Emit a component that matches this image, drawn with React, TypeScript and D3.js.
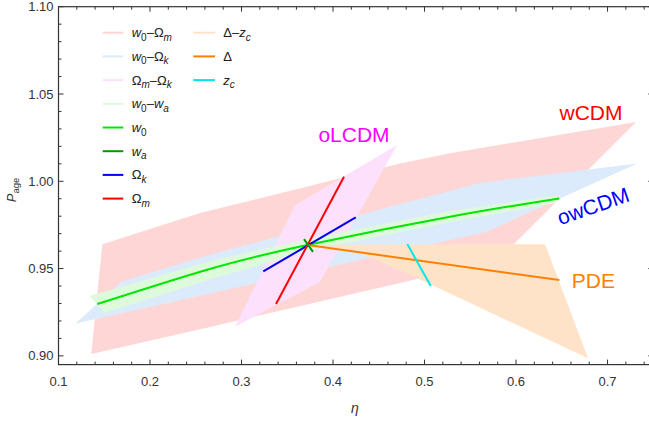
import React from 'react';
import * as d3 from 'd3';

// region polygons, [eta, P_age]
const wCDMband: [number, number][] = [
  [0.1479, 0.9639], [0.2546, 0.9818], [0.4732, 1.0102], [0.5279, 1.0161], [0.7311, 1.034],
  [0.5803, 0.9549], [0.4732, 0.9417], [0.2634, 0.9163], [0.1358, 0.9011],
];
const owCDMband: [number, number][] = [
  [0.1184, 0.9186], [0.1686, 0.9424], [0.2634, 0.9577], [0.5607, 0.999], [0.7326, 1.0102],
  [0.568, 0.9711], [0.2634, 0.9354],
];
const w0waBand: [number, number][] = [
  [0.1341, 0.9343], [0.2634, 0.9539], [0.3719, 0.967], [0.5279, 0.983], [0.6473, 0.9921],
  [0.6426, 0.9875], [0.5279, 0.9765], [0.3719, 0.9602], [0.2634, 0.9434], [0.1505, 0.9247],
];
const oLCDMband: [number, number][] = [
  [0.4699, 1.0207], [0.3585, 0.9864], [0.2929, 0.9167], [0.3858, 0.9423],
];
const pdeBand: [number, number][] = [
  [0.3719, 0.9635], [0.6317, 0.964], [0.6787, 0.8986], [0.4806, 0.9473], [0.4295, 0.9589],
];

// 1-parameter curves
const w0Line: [number, number][] = [
  [0.1424, 0.9297], [0.2634, 0.9495], [0.3719, 0.9635], [0.5279, 0.9797], [0.6473, 0.9902],
];
const waLine: [number, number][] = [[0.3683, 0.9669], [0.3781, 0.9596]];
const okLine: [number, number][] = [[0.3238, 0.9484], [0.4248, 0.9793]];
const omLine: [number, number][] = [[0.3377, 0.9297], [0.412, 1.0026]];
const deltaLine: [number, number][] = [[0.3719, 0.9635], [0.6473, 0.9434]];
const zcLine: [number, number][] = [[0.4812, 0.964], [0.5068, 0.94]];

const xMajor = [0.1, 0.2, 0.3, 0.4, 0.5, 0.6, 0.7];
const yMajor = [0.9, 0.95, 1.0, 1.05, 1.1];

const C = {
  redBand: '#ffd6d6', blueBand: '#dcebfb', greenBand: '#ddfadb', pinkBand: '#fde0fb', orangeBand: '#ffe3c8',
  w0: '#00e600', wa: '#009a00', ok: '#0000ee', om: '#ff0000', delta: '#ff8000', zc: '#00e8e8',
};

type Seg = { t: string; i?: boolean; s?: boolean };
const w = (): Seg => ({ t: 'w', i: true });
const sub = (t: string, i = true): Seg => ({ t, i, s: true });
const O: Seg = { t: 'Ω' };
const dash: Seg = { t: '–' };

const legendLeft: { color: string; label: Seg[] }[] = [
  { color: C.redBand, label: [w(), sub('0', false), dash, O, sub('m')] },
  { color: C.blueBand, label: [w(), sub('0', false), dash, O, sub('k')] },
  { color: C.pinkBand, label: [O, sub('m'), dash, O, sub('k')] },
  { color: C.greenBand, label: [w(), sub('0', false), dash, w(), sub('a')] },
  { color: C.w0, label: [w(), sub('0', false)] },
  { color: C.wa, label: [w(), sub('a')] },
  { color: C.ok, label: [O, sub('k')] },
  { color: C.om, label: [O, sub('m')] },
];
const legendRight: { color: string; label: Seg[] }[] = [
  { color: C.orangeBand, label: [{ t: 'Δ' }, dash, { t: 'z', i: true }, sub('c')] },
  { color: C.delta, label: [{ t: 'Δ' }] },
  { color: C.zc, label: [{ t: 'z', i: true }, sub('c')] },
];

const W = 649, H = 424;
const font = 'Liberation Sans, Arial, sans-serif';

function Label({ segs, x, y }: { segs: Seg[]; x: number; y: number }) {
  let shifted = false;
  return (
    <text x={x} y={y} fontFamily={font} fontSize={13} fill="#222">
      {segs.map((s, k) => {
        let dy = 0;
        if (s.s && !shifted) { dy = 3.5; shifted = true; }
        else if (!s.s && shifted) { dy = -3.5; shifted = false; }
        return (
          <tspan key={k} dy={dy} fontStyle={s.i ? 'italic' : 'normal'} fontSize={s.s ? 10 : 13}>{s.t}</tspan>
        );
      })}
    </text>
  );
}

export default function App() {
  const x = d3.scaleLinear().domain([0.1, 0.75]).range([58.5, 653.3]);
  const y = d3.scaleLinear().domain([0.895, 1.1]).range([364.6, 6.7]);
  const poly = (pts: [number, number][]) => 'M' + pts.map(p => `${x(p[0])},${y(p[1])}`).join('L') + 'Z';
  const line = d3.line<[number, number]>().x(d => x(d[0])).y(d => y(d[1]));
  const curve = d3.line<[number, number]>().x(d => x(d[0])).y(d => y(d[1])).curve(d3.curveNatural);

  const xMinor = d3.range(0.1, 0.7501, 0.02);
  const yMinor = d3.range(0.9, 1.1001, 0.01);
  const [x0, x1] = x.range();
  const [y0, y1] = y.range();

  return (
    <svg width={W} height={H} style={{ position: 'absolute', left: 0, top: 0, background: '#fff' }}>
      <path d={poly(wCDMband)} fill={C.redBand} />
      <path d={poly(owCDMband)} fill={C.blueBand} />
      <path d={poly(oLCDMband)} fill={C.pinkBand} />
      <path d={poly(w0waBand)} fill={C.greenBand} />
      <path d={poly(pdeBand)} fill={C.orangeBand} />

      <path d={curve(w0Line) || ''} fill="none" stroke={C.w0} strokeWidth={2} />
      <path d={line(okLine) || ''} fill="none" stroke={C.ok} strokeWidth={2} />
      <path d={line(omLine) || ''} fill="none" stroke={C.om} strokeWidth={2} />
      <path d={line(deltaLine) || ''} fill="none" stroke={C.delta} strokeWidth={2} />
      <path d={line(zcLine) || ''} fill="none" stroke={C.zc} strokeWidth={2} />
      <path d={line(waLine) || ''} fill="none" stroke={C.wa} strokeWidth={2} />

      <text x={x(0.6475)} y={y(1.035)} fontFamily={font} fontSize={21} fill="#ff0000">wCDM</text>
      <text x={x(0.384)} y={y(1.0226)} fontFamily={font} fontSize={21} fill="#ff00ff">oLCDM</text>
      <text transform={`translate(${x(0.6842)},${y(0.9858)}) rotate(-19)`} textAnchor="middle" dy="0.35em"
        fontFamily={font} fontSize={21} fill="#0000ff">owCDM</text>
      <text x={x(0.6609)} y={y(0.9387)} fontFamily={font} fontSize={21} fill="#ff8000">PDE</text>

      {/* frame */}
      <rect x={x0} y={y1} width={x1 - x0} height={y0 - y1} fill="none" stroke="#333" strokeWidth={1.2} />
      {xMinor.map((v, k) => {
        const major = xMajor.some(m => Math.abs(m - v) < 1e-6);
        const l = major ? 5 : 3;
        return (
          <g key={'xt' + k} stroke="#333" strokeWidth={1}>
            <line x1={x(v)} x2={x(v)} y1={y0} y2={y0 - l} />
            <line x1={x(v)} x2={x(v)} y1={y1} y2={y1 + l} />
          </g>
        );
      })}
      {yMinor.map((v, k) => {
        const major = yMajor.some(m => Math.abs(m - v) < 1e-6);
        const l = major ? 5 : 3;
        return (
          <g key={'yt' + k} stroke="#333" strokeWidth={1}>
            <line x1={x0} x2={x0 + l} y1={y(v)} y2={y(v)} />
            <line x1={x1} x2={x1 - l} y1={y(v)} y2={y(v)} />
          </g>
        );
      })}
      {xMajor.map(v => (
        <text key={'xl' + v} x={x(v)} y={y0 + 21} textAnchor="middle" fontFamily={font} fontSize={13} fill="#333">
          {d3.format('.1f')(v)}
        </text>
      ))}
      {yMajor.map(v => (
        <text key={'yl' + v} x={x0 - 5} y={y(v)} dy="0.35em" textAnchor="end" fontFamily={font} fontSize={13} fill="#333">
          {d3.format('.2f')(v)}
        </text>
      ))}
      <text x={355} y={413} textAnchor="middle" fontFamily={font} fontSize={14} fontStyle="italic" fill="#333">η</text>
      <text transform="translate(16,190) rotate(-90)" textAnchor="middle" fontFamily={font} fontSize={13} fill="#333">
        <tspan fontStyle="italic">P</tspan><tspan fontSize={9.5} dy={3}>age</tspan>
      </text>

      {legendLeft.map((d, k) => (
        <g key={'ll' + k}>
          <line x1={102.7} x2={123.3} y1={32.7 + k * 23.7} y2={32.7 + k * 23.7} stroke={d.color} strokeWidth={2} />
          <Label segs={d.label} x={131.7} y={32.7 + k * 23.7 + 4.5} />
        </g>
      ))}
      {legendRight.map((d, k) => (
        <g key={'lr' + k}>
          <line x1={193.3} x2={215} y1={32.7 + k * 23.7} y2={32.7 + k * 23.7} stroke={d.color} strokeWidth={2} />
          <Label segs={d.label} x={223.3} y={32.7 + k * 23.7 + 4.5} />
        </g>
      ))}
    </svg>
  );
}
